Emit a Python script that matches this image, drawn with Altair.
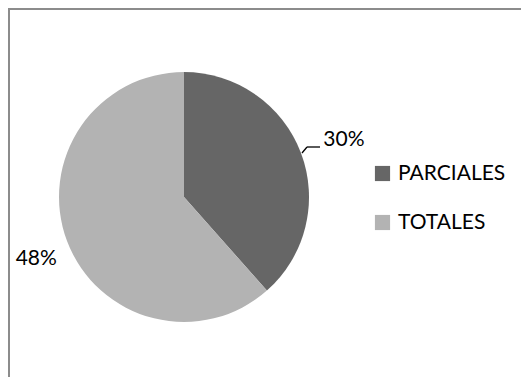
import altair as alt
import pandas as pd

categories = ["PARCIALES", "TOTALES"]
values = [30, 48]
labels = ["30%", "48%"]
order = [1, 2]

df = pd.DataFrame({"cat": categories, "val": values, "lab": labels, "ord": order})

color = alt.Color(
    "cat:N",
    scale=alt.Scale(domain=categories, range=["#666666", "#b3b3b3"]),
    legend=alt.Legend(
        title=None,
        orient="none",
        legendX=364,
        legendY=155,
        symbolType="square",
        symbolSize=230,
        symbolStrokeWidth=0,
        labelFontSize=21,
        labelFont="Lato",
        labelColor="#000000",
        rowPadding=27,
        labelOffset=5,
    ),
)

base = alt.Chart(df).encode(
    theta=alt.Theta("val:Q", stack=True),
    order=alt.Order("ord:Q"),
)

pie = base.mark_arc(radius=125, stroke=None).encode(
    color=color,
    x=alt.value(176),
    y=alt.value(189),
)

text_p = base.mark_text(radius=171, dy=4, fontSize=21, font="Lato", color="#000000").encode(
    text=alt.condition(alt.datum.cat == "PARCIALES", "lab:N", alt.value("")),
    x=alt.value(176),
    y=alt.value(189),
)
text_t = base.mark_text(radius=158, dy=6, fontSize=21, font="Lato", color="#000000").encode(
    text=alt.condition(alt.datum.cat == "TOTALES", "lab:N", alt.value("")),
    x=alt.value(176),
    y=alt.value(189),
)

lead1 = alt.Chart(df.head(1)).mark_rule(color="#000000", strokeWidth=1.3).encode(
    x=alt.value(294), y=alt.value(145), x2=alt.value(299), y2=alt.value(139)
)
lead2 = alt.Chart(df.head(1)).mark_rule(color="#000000", strokeWidth=1.3).encode(
    x=alt.value(299), y=alt.value(139), x2=alt.value(312), y2=alt.value(139)
)

# frame: only left and top edges are visible in the reference
frame_left = alt.Chart(df.head(1)).mark_rule(color="#8c8c8c", strokeWidth=2).encode(
    x=alt.value(1), y=alt.value(0), x2=alt.value(1), y2=alt.value(369)
)
frame_top = alt.Chart(df.head(1)).mark_rule(color="#8c8c8c", strokeWidth=2).encode(
    x=alt.value(0), y=alt.value(1), x2=alt.value(513), y2=alt.value(1)
)

chart = (
    alt.layer(frame_left, frame_top, pie, text_p, text_t, lead1, lead2)
    .properties(width=513, height=369, autosize=alt.AutoSizeParams(type="none"), padding=0)
    .configure_view(stroke=None)
    .configure(background="white")
)

chart.save("out.html", embed_options={"renderer": "svg", "actions": False})
